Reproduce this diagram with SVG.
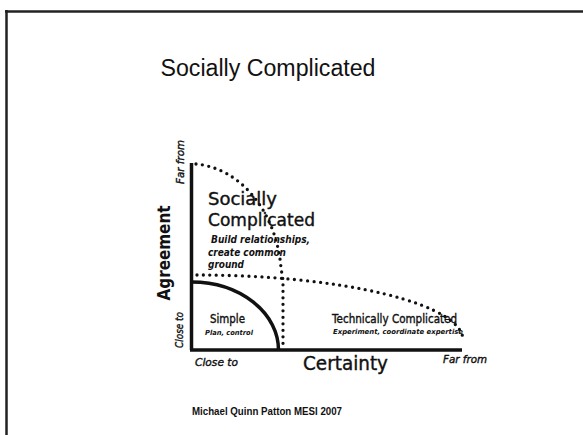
<svg xmlns="http://www.w3.org/2000/svg" width="583" height="435" viewBox="0 0 583 435">
<style>
.comic{font-family:"Comic Sans MS","DejaVu Sans","Noto Sans",sans-serif;fill:#111}
.it{font-style:italic}
.b{font-weight:bold}
.s{stroke:#111;stroke-width:0.4}
.dot{fill:none;stroke:#111;stroke-width:3.3;stroke-linecap:round;stroke-dasharray:0 6.5}
.axis{fill:none;stroke:#111;stroke-width:3.5}
</style>
<rect width="583" height="435" fill="#fff"/>
<g id="frame" fill="none" stroke="#222" stroke-width="2.5">
<line x1="5" y1="11.5" x2="583" y2="11.5"/>
<line x1="6.5" y1="10" x2="6.5" y2="435"/>
</g>
<text id="title" x="268" y="76" font-family="Liberation Sans, Arial, sans-serif" font-size="23" text-anchor="middle" fill="#111" textLength="215" lengthAdjust="spacingAndGlyphs">Socially Complicated</text>
<g id="axes">
<line class="axis" x1="191.5" y1="163" x2="191.5" y2="350"/>
<line class="axis" x1="190" y1="350" x2="462" y2="350"/>
<text class="comic b" transform="translate(170,253) rotate(-90)" font-size="18" text-anchor="middle" textLength="95" lengthAdjust="spacingAndGlyphs">Agreement</text>
<text class="comic it s" transform="translate(184,184) rotate(-90)" font-size="11" textLength="44" lengthAdjust="spacingAndGlyphs">Far from</text>
<text class="comic it s" transform="translate(183,348) rotate(-90)" font-size="11" textLength="36" lengthAdjust="spacingAndGlyphs">Close to</text>
<text class="comic it s" x="195" y="366" font-size="11" textLength="43" lengthAdjust="spacingAndGlyphs">Close to</text>
<text class="comic s" x="303" y="370" font-size="19" textLength="85" lengthAdjust="spacingAndGlyphs" stroke-width="0.6">Certainty</text>
<text class="comic it s" x="443" y="363" font-size="11" textLength="44" lengthAdjust="spacingAndGlyphs">Far from</text>
</g>
<g id="connectors">
<path class="dot" d="M196,164 A92,116 0 0 1 281,268 L283,280 L283,346"/>
<path class="dot" d="M197,275 A266,65 0 0 1 463,340"/>
</g>
<g id="simple">
<path d="M191.5,282 A87,68 0 0 1 278.5,350" fill="none" stroke="#111" stroke-width="3.5"/>
<text class="comic s" x="210" y="323" font-size="12" textLength="35" lengthAdjust="spacingAndGlyphs">Simple</text>
<text class="comic it b" x="205" y="335" font-size="7" textLength="48" lengthAdjust="spacingAndGlyphs">Plan, control</text>
</g>
<g id="socially-complicated">
<text class="comic s" x="208" y="205" font-size="17" textLength="69" lengthAdjust="spacingAndGlyphs">Socially</text>
<text class="comic s" x="208" y="226" font-size="17" textLength="107" lengthAdjust="spacingAndGlyphs">Complicated</text>
<text class="comic it b" x="211" y="243" font-size="10" textLength="99" lengthAdjust="spacingAndGlyphs">Build relationships,</text>
<text class="comic it b" x="208" y="256" font-size="10" textLength="78" lengthAdjust="spacingAndGlyphs">create common</text>
<text class="comic it b" x="208" y="268" font-size="10" textLength="36" lengthAdjust="spacingAndGlyphs">ground</text>
</g>
<g id="technically-complicated">
<text class="comic s" x="332" y="323" font-size="12" textLength="125" lengthAdjust="spacingAndGlyphs">Technically Complicated</text>
<text class="comic it b" x="333" y="334" font-size="7" textLength="130" lengthAdjust="spacingAndGlyphs">Experiment, coordinate expertise</text>
</g>
<text id="credit" x="192" y="415" font-family="Liberation Sans, Arial, sans-serif" font-size="10" font-weight="bold" fill="#111" textLength="150" lengthAdjust="spacingAndGlyphs">Michael Quinn Patton MESI 2007</text>
</svg>
